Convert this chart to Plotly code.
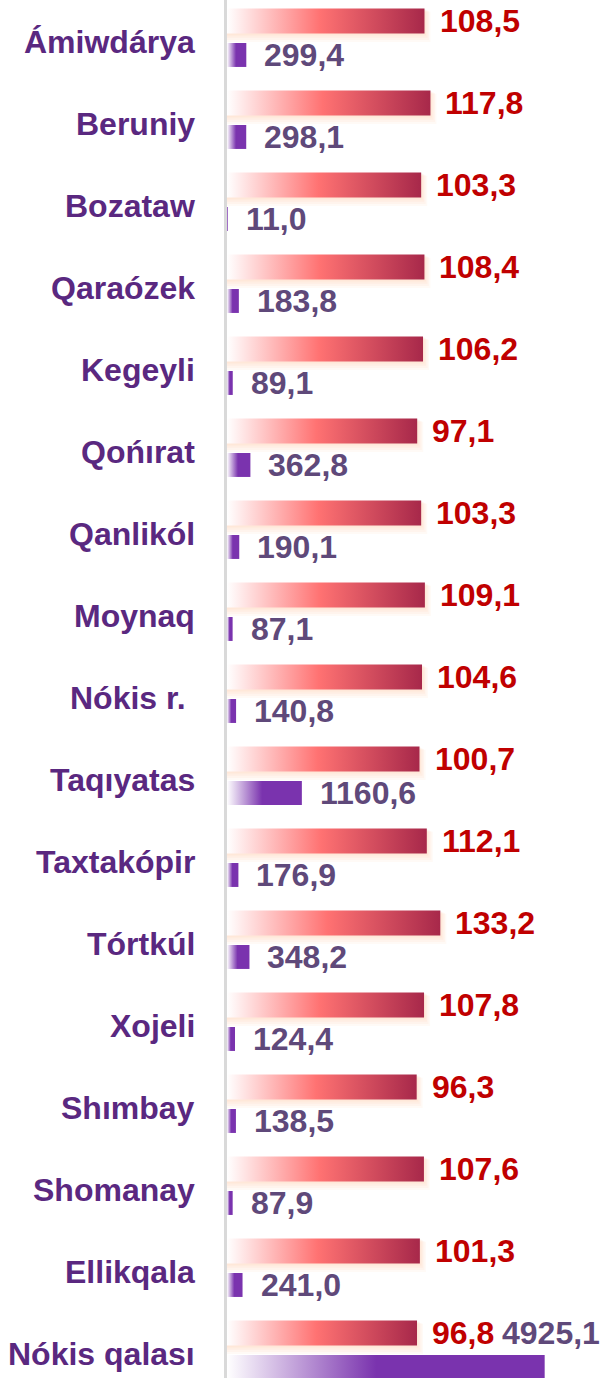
import plotly.graph_objects as go

categories = ["Ámiwdárya", "Beruniy", "Bozataw", "Qaraózek", "Kegeyli", "Qońırat",
              "Qanlikól", "Moynaq", "Nókis r.\u00a0", "Taqıyatas", "Taxtakópir", "Tórtkúl",
              "Xojeli", "Shımbay", "Shomanay", "Ellikqala", "Nókis qalası"]
growth = [108.5, 117.8, 103.3, 108.4, 106.2, 97.1, 103.3, 109.1, 104.6, 100.7,
          112.1, 133.2, 107.8, 96.3, 107.6, 101.3, 96.8]
volume = [299.4, 298.1, 11.0, 183.8, 89.1, 362.8, 190.1, 87.1, 140.8, 1160.6,
          176.9, 348.2, 124.4, 138.5, 87.9, 241.0, 4925.1]

RED_MIN, RED_MAX = -200, 392
PUR_MIN, PUR_MAX = 0, 5876
RED_OFF, PUR_OFF = -0.207, 0.207
RED_H, PUR_H = 0.152, 0.146
FONT = "Liberation Sans, Arial, sans-serif"

red_scale = [[0, "#ffffff"], [0.47, "#ff7272"], [1, "#a7284a"]]
pur_scale = [[0, "#ffffff"], [0.47, "#7a33ae"], [1, "#7a33ae"]]

fig = go.Figure()

def rect(x0, x1, yc, h):
    return [x0, x1, x1, x0, x0], [yc - h, yc - h, yc + h, yc + h, yc - h]

n = len(categories)
for i in range(n):
    yr = i + RED_OFF
    # soft glow behind red bars
    for k, a in [(4, 0.10), (3, 0.12), (2, 0.14), (1, 0.16)]:
        xs, ys = rect(RED_MIN, growth[i] + 1.56 * k * 1.5, yr + 0.018 * k, RED_H + 0.008 * k)
        fig.add_trace(go.Scatter(x=xs, y=ys, fill="toself", mode="lines",
                                 line=dict(width=0), fillcolor=f"rgba(252,205,170,{a})",
                                 hoverinfo="skip", showlegend=False))
    xs, ys = rect(RED_MIN, growth[i], yr, RED_H)
    fig.add_trace(go.Scatter(x=xs, y=ys, fill="toself", mode="lines", line=dict(width=0),
                             fillgradient=dict(type="horizontal", colorscale=red_scale),
                             hoverinfo="skip", showlegend=False))
    yp = i + PUR_OFF
    xs, ys = rect(PUR_MIN, volume[i], yp, PUR_H)
    fig.add_trace(go.Scatter(x=xs, y=ys, fill="toself", mode="lines", line=dict(width=0),
                             fillgradient=dict(type="horizontal", colorscale=pur_scale),
                             xaxis="x2", hoverinfo="skip", showlegend=False))

annotations = []
for i in range(n):
    annotations.append(dict(x=0, xref="paper", y=i + 0.05, yref="y", text=categories[i],
                            xanchor="right", yanchor="middle", xshift=-30, showarrow=False,
                            font=dict(family=FONT, size=32, color="#5a2880", weight=700)))
    annotations.append(dict(x=growth[i], xref="x", y=i + RED_OFF, yref="y",
                            text=f"{growth[i]:.1f}".replace(".", ","),
                            xanchor="left", yanchor="middle", xshift=13, showarrow=False,
                            font=dict(family=FONT, size=32, color="#c00000", weight=700)))
    ptxt = f"{volume[i]:.1f}".replace(".", ",")
    if i == n - 1:
        annotations.append(dict(x=1, xref="paper", y=i + RED_OFF, yref="y", text=ptxt,
                                xanchor="right", yanchor="middle", xshift=-4, showarrow=False,
                                font=dict(family=FONT, size=32, color="#5f497a", weight=700)))
    else:
        annotations.append(dict(x=volume[i], xref="x2", y=i + PUR_OFF, yref="y", text=ptxt,
                                xanchor="left", yanchor="middle", xshift=16, showarrow=False,
                                font=dict(family=FONT, size=32, color="#5f497a", weight=700)))

fig.update_layout(
    width=606, height=1378,
    margin=dict(l=227, r=0, t=0, b=0),
    paper_bgcolor="white", plot_bgcolor="white",
    xaxis=dict(range=[RED_MIN, RED_MAX], visible=False, fixedrange=True),
    xaxis2=dict(range=[PUR_MIN, PUR_MAX], overlaying="x", visible=False, fixedrange=True),
    yaxis=dict(range=[(1378 - 38) / 82, -38 / 82], showticklabels=False, showgrid=False,
               zeroline=False, showline=True, linecolor="#d9d9d9", linewidth=3, ticks=""),
    annotations=annotations,
    showlegend=False,
)

fig.write_html("out.html", config={"displayModeBar": False},
               post_script="document.body.style.margin='0';")
